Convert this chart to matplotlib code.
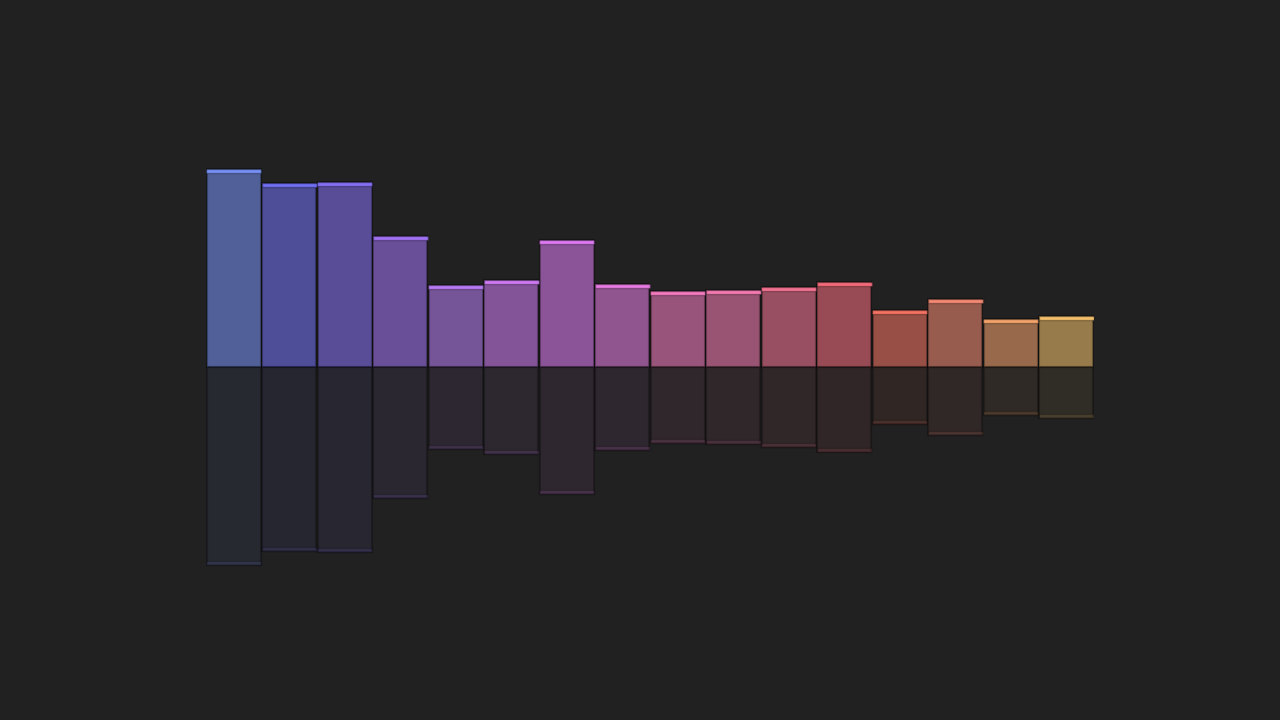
import numpy as np
import matplotlib
matplotlib.use("Agg")
import matplotlib.pyplot as plt
from matplotlib.colors import to_rgba

# bar values (arbitrary units)
values = [98.5, 91.5, 92.0, 65.0, 40.5, 43.0, 63.0, 41.0,
          37.5, 38.0, 39.5, 42.0, 28.0, 33.5, 23.5, 25.0]
colors = ["#7b96ff", "#7474ff", "#8a74ff", "#a878ff", "#c080ff", "#d880ff",
          "#e880ff", "#f080ec", "#ff80c8", "#ff80b8", "#ff7898", "#ff7080",
          "#ff7866", "#ff9078", "#ffaa70", "#ffc870"]

bg = "#212121"
fig = plt.figure(figsize=(12.8, 7.2), dpi=100, facecolor=bg)
ax = fig.add_axes([206/1280, 0, 888/1280, 1])
ax.set_facecolor(bg)
ax.set_axis_off()

x = np.arange(len(values))
edge = (0, 0, 0, 0.3)
cap = 2.0
w = 0.975

fill = [to_rgba(c, 0.54) for c in colors]
capc = [to_rgba(c, 0.9) for c in colors]
refl = [to_rgba(c, 0.07) for c in colors]
reflcap = [to_rgba(c, 0.13) for c in colors]
v = np.array(values) + 0.5

# main bars + top caps
ax.bar(x, v, width=w, color=fill, edgecolor=edge, linewidth=1.5)
ax.bar(x, cap, bottom=v - cap, width=w + 0.01, color=capc, edgecolor=edge, linewidth=1.0)

# reflection
ax.bar(x, -v, width=w, color=refl, edgecolor=(0, 0, 0, 0.25), linewidth=1.5)
ax.bar(x, cap, bottom=-v, width=w + 0.01, color=reflcap, edgecolor=(0, 0, 0, 0.2), linewidth=1.0)

ax.set_xlim(-0.5, len(values) - 0.5)
ax.set_ylim(-176.5, 183.5)

fig.savefig("out.png", dpi=100, facecolor=bg)
